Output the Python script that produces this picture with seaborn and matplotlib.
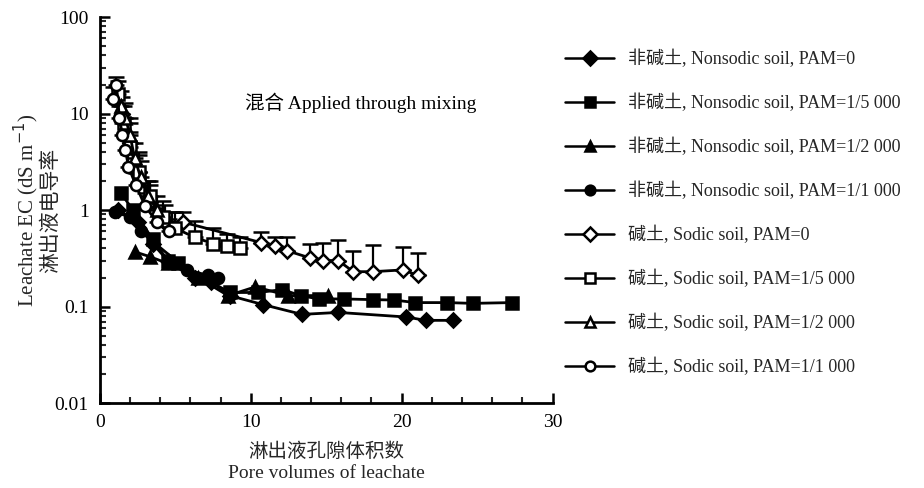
import numpy as np
import pandas as pd
import matplotlib
matplotlib.use("Agg")
import matplotlib.pyplot as plt
import seaborn as sns
from matplotlib.ticker import FixedLocator, FixedFormatter, MultipleLocator, NullFormatter

# ---------------- data ----------------
ns0_x = [1.2, 2.5, 3.5, 4.5, 6.3, 7.4, 8.6, 10.8, 13.4, 15.8, 20.3, 21.6, 23.4]
ns0_y = [1.0, 0.75, 0.45, 0.30, 0.20, 0.18, 0.13, 0.105, 0.083, 0.087, 0.078, 0.072, 0.072]

ns5000_x = [1.4, 2.2, 3.5, 4.5, 5.2, 8.6, 10.5, 12.1, 13.3, 14.5, 16.2, 18.1, 19.5, 20.9, 23.0, 24.7, 27.3]
ns5000_y = [1.5, 1.0, 0.50, 0.30, 0.28, 0.14, 0.14, 0.15, 0.13, 0.12, 0.12, 0.118, 0.117, 0.11, 0.11, 0.108, 0.11]

ns2000_x = [2.3, 3.3, 4.5, 6.5, 8.5, 10.3, 12.5, 15.1]
ns2000_y = [0.37, 0.33, 0.28, 0.20, 0.13, 0.16, 0.13, 0.13]

ns1000_x = [1.0, 2.0, 2.7, 5.8, 7.2, 7.8]
ns1000_y = [0.95, 0.85, 0.60, 0.24, 0.21, 0.20]

s0_x = [1.5, 2.0, 2.6, 3.3, 4.3, 4.8, 5.5, 10.7, 11.6, 12.4, 13.9, 14.8, 15.8, 16.8, 18.1, 20.1, 21.1]
s0_y = [10.0, 5.0, 2.5, 1.2, 0.73, 0.65, 0.75, 0.46, 0.42, 0.38, 0.32, 0.30, 0.30, 0.23, 0.23, 0.24, 0.21]
s0_err = [5.0, 3.0, 1.5, 0.6, 0.4, 0.3, 0.2, 0.13, 0.10, 0.14, 0.13, 0.16, 0.19, 0.15, 0.20, 0.17, 0.15]

s5000_x = [1.2, 1.6, 2.0, 2.6, 3.3, 4.2, 5.0, 6.3, 7.5, 8.4, 9.3]
s5000_y = [16.0, 8.0, 4.5, 2.5, 1.4, 0.85, 0.65, 0.52, 0.45, 0.42, 0.40]
s5000_err = [6.0, 4.0, 2.0, 1.2, 0.6, 0.4, 0.3, 0.25, 0.2, 0.15, 0.12]

s2000_x = [1.4, 1.7, 2.0, 2.3, 2.7, 3.2, 3.8]
s2000_y = [12.0, 9.0, 6.0, 3.5, 2.2, 1.4, 1.0]
s2000_err = [5.0, 4.0, 3.0, 1.5, 1.0, 0.6, 0.4]

s1000_x = [0.9, 1.1, 1.3, 1.5, 1.7, 1.9, 2.4, 3.0, 3.8, 4.6]
s1000_y = [14.0, 20.0, 9.0, 6.0, 4.2, 2.8, 1.8, 1.1, 0.75, 0.60]
s1000_err = [5.0, 4.0, 3.0, 2.0, 1.5, 1.0, 0.6, 0.4, 0.3, 0.2]

labels = [
    "非碱土, Nonsodic soil, PAM=0",
    "非碱土, Nonsodic soil, PAM=1/5 000",
    "非碱土, Nonsodic soil, PAM=1/2 000",
    "非碱土, Nonsodic soil, PAM=1/1 000",
    "碱土, Sodic soil, PAM=0",
    "碱土, Sodic soil, PAM=1/5 000",
    "碱土, Sodic soil, PAM=1/2 000",
    "碱土, Sodic soil, PAM=1/1 000",
]
y_ticks = [0.01, 0.1, 1, 10, 100]
y_ticklabels = ["0.01", "0.1", "1", "10", "100"]
x_ticks = [0, 10, 20, 30]
x_ticklabels = ["0", "10", "20", "30"]

# ---------------- plotting ----------------
sns.set_theme(style="ticks")
plt.rcParams["font.family"] = ["Liberation Serif", "Noto Sans CJK SC"]
plt.rcParams["axes.unicode_minus"] = False

fig = plt.figure(figsize=(9.24, 4.88), dpi=100)
ax = fig.add_axes([0.108, 0.174, 0.490, 0.791])

series = [
    (ns0_x, ns0_y, None, "D", "black"),
    (ns5000_x, ns5000_y, None, "s", "black"),
    (ns2000_x, ns2000_y, None, "^", "black"),
    (ns1000_x, ns1000_y, None, "o", "black"),
    (s0_x, s0_y, s0_err, "D", "white"),
    (s5000_x, s5000_y, s5000_err, "s", "white"),
    (s2000_x, s2000_y, s2000_err, "^", "white"),
    (s1000_x, s1000_y, s1000_err, "o", "white"),
]

for (xs, ys, errs, mk, fc), lab in zip(series, labels):
    if errs is not None:
        ax.errorbar(xs, ys, yerr=[np.zeros(len(errs)), errs], fmt="none",
                    ecolor="black", elinewidth=1.6, capsize=6, capthick=1.8, zorder=2)
    df = pd.DataFrame({"x": xs, "y": ys})
    ms = 7 if mk == "D" else 8
    if mk == "^":
        ms = 9
    sns.lineplot(data=df, x="x", y="y", ax=ax, sort=False, color="black",
                 marker=mk, markersize=ms, markerfacecolor=fc,
                 markeredgecolor="black", markeredgewidth=1.8,
                 linewidth=2.0, label=lab, zorder=3)

ax.set_yscale("log")
ax.set_ylim(0.01, 100)
ax.set_xlim(0, 30)
ax.yaxis.set_major_locator(FixedLocator(y_ticks))
ax.yaxis.set_major_formatter(FixedFormatter(y_ticklabels))
ax.xaxis.set_major_locator(FixedLocator(x_ticks))
ax.xaxis.set_major_formatter(FixedFormatter(x_ticklabels))
ax.xaxis.set_minor_locator(MultipleLocator(2))
ax.xaxis.set_minor_formatter(NullFormatter())
ax.yaxis.set_minor_formatter(NullFormatter())

for side in ["top", "right"]:
    ax.spines[side].set_visible(False)
for side in ["left", "bottom"]:
    ax.spines[side].set_linewidth(2.0)
    ax.spines[side].set_color("black")

ax.tick_params(axis="both", which="major", direction="in", length=7, width=1.8,
               labelsize=14, colors="black", pad=8)
ax.tick_params(axis="both", which="minor", direction="in", length=4, width=1.5)

ax.set_xlabel("淋出液孔隙体积数\nPore volumes of leachate", fontsize=14, linespacing=1.3,
              labelpad=8)
ax.set_ylabel("Leachate EC (dS m$^{-1}$)\n淋出液电导率", fontsize=15, linespacing=1.05)
ax.yaxis.set_label_coords(-0.085, 0.5)

ax.text(9.6, 13.0, "混合 Applied through mixing", fontsize=14, color="black",
        va="center", ha="left")

leg = ax.legend(loc="upper left", bbox_to_anchor=(1.012, 0.935), frameon=False,
                fontsize=13, handlelength=2.7, labelspacing=1.42, handletextpad=0.8,
                borderaxespad=0)
for h in leg.get_lines():
    h.set_linewidth(1.8)
    h.set_markersize(7)

fig.savefig("out.png", dpi=100, facecolor="white")
